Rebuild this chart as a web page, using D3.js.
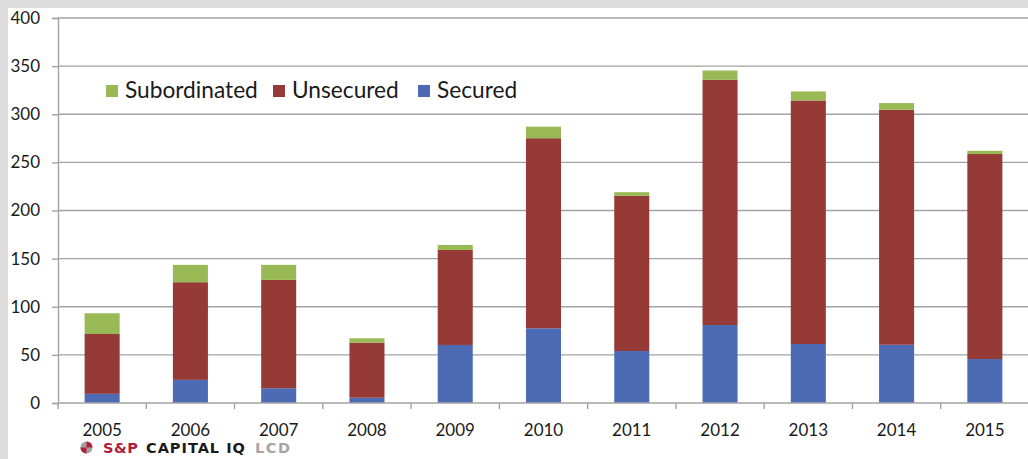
<!DOCTYPE html>
<html>
<head>
<meta charset="utf-8">
<script src="https://cdn.jsdelivr.net/npm/d3@7"></script>
<style>
  html, body { margin: 0; padding: 0; background: #dcdcdc; }
  svg { display: block; }
</style>
</head>
<body>
<svg id="chart" width="1028" height="459"></svg>
<script>
const years = ["2005","2006","2007","2008","2009","2010","2011","2012","2013","2014","2015"];
const secured = [9.5, 24, 15.3, 5.5, 60.3, 77.6, 54, 81, 61.3, 60.5, 45.7];
const unsecured = [62.2, 101.5, 112.6, 57.2, 98.7, 197.5, 161.2, 254.8, 253, 244.1, 213];
const subordinated = [21.5, 18, 15.6, 4.5, 5.2, 12, 3.8, 9.6, 9.4, 7, 3.3];
const seriesNames = ["Secured", "Unsecured", "Subordinated"];
const seriesColors = ["#4d6bb5", "#953a37", "#98b953"];
const yTicks = [0, 50, 100, 150, 200, 250, 300, 350, 400];
const legendOrder = ["Subordinated", "Unsecured", "Secured"];

const svg = d3.select("#chart");
const W = 1028, H = 459;
const plot = { left: 58, right: 1029, top: 18, bottom: 403 };

// white panel
svg.append("rect").attr("x", 8).attr("y", 8).attr("width", W - 8).attr("height", H - 8).attr("fill", "#ffffff");

const x = d3.scaleBand().domain(years).range([plot.left, plot.right]).paddingInner(0).paddingOuter(0);
const y = d3.scaleLinear().domain([0, 400]).range([plot.bottom, plot.top]);
const barW = x.bandwidth() * 0.397;

// gridlines
svg.append("g").selectAll("line").data(yTicks.filter(d => d > 0)).join("line")
  .attr("x1", plot.left).attr("x2", W)
  .attr("y1", d => y(d)).attr("y2", d => y(d))
  .attr("stroke", "#a3a3a3").attr("stroke-width", 1.4);

// y axis
const yAxis = d3.axisLeft(y).tickValues(yTicks).tickSize(6).tickPadding(12);
const gy = svg.append("g").attr("transform", `translate(${plot.left},0)`).call(yAxis);
gy.select(".domain").attr("stroke", "#a3a3a3").attr("stroke-width", 1.4);
gy.selectAll(".tick line").attr("stroke", "#a3a3a3").attr("stroke-width", 1.4);
gy.selectAll(".tick text").attr("font-family", "Lato, 'Open Sans', sans-serif").attr("font-size", 17).attr("fill", "#1a1a1a");

// stacked data
const rows = years.map((yr, i) => ({ year: yr, Secured: secured[i], Unsecured: unsecured[i], Subordinated: subordinated[i] }));
const stack = d3.stack().keys(seriesNames)(rows);
const color = d3.scaleOrdinal().domain(seriesNames).range(seriesColors);

svg.append("g").selectAll("g").data(stack).join("g")
  .attr("fill", d => color(d.key))
  .selectAll("rect").data(d => d).join("rect")
  .attr("x", d => x(d.data.year) + (x.bandwidth() - barW) / 2)
  .attr("width", barW)
  .attr("y", d => y(d[1]))
  .attr("height", d => y(d[0]) - y(d[1]));

// x axis line and ticks at category boundaries
svg.append("line").attr("x1", plot.left).attr("x2", W).attr("y1", plot.bottom).attr("y2", plot.bottom)
  .attr("stroke", "#a3a3a3").attr("stroke-width", 1.4);
const boundaries = years.map(d => x(d)).concat([x.range()[1]]);
svg.append("g").selectAll("line").data(boundaries).join("line")
  .attr("x1", d => d).attr("x2", d => d).attr("y1", plot.bottom).attr("y2", plot.bottom + 6)
  .attr("stroke", "#a3a3a3").attr("stroke-width", 1.4);
svg.append("g").selectAll("text").data(years).join("text")
  .attr("x", d => x(d) + x.bandwidth() / 2).attr("y", 436)
  .attr("text-anchor", "middle")
  .attr("font-family", "Lato, 'Open Sans', sans-serif").attr("font-size", 17).attr("fill", "#1a1a1a")
  .text(d => d);

// legend
const legendX = [106, 273, 418];
const lg = svg.append("g").selectAll("g").data(legendOrder).join("g")
  .attr("transform", (d, i) => `translate(${legendX[i]},85)`);
lg.append("rect").attr("width", 12).attr("height", 12).attr("fill", d => color(d));
lg.append("text").attr("x", 19).attr("y", 13)
  .attr("font-family", "Lato, 'Open Sans', sans-serif").attr("font-size", 22.7).attr("fill", "#1a1a1a")
  .text(d => d);

// source logo
const logo = svg.append("g");
logo.append("circle").attr("cx", 86.5).attr("cy", 447.5).attr("r", 6).attr("fill", "#a0a0a0");
logo.append("path").attr("d", "M86.5,441.5 A6,6 0 0 1 92.5,447.5 L86.5,447.5 Z").attr("fill", "#b51f3f");
logo.append("path").attr("d", "M80.5,447.5 A6,6 0 0 0 86.5,453.5 L86.5,447.5 Z").attr("fill", "#b51f3f");
const logoFont = "'DejaVu Sans', sans-serif";
logo.append("text").attr("x", 103).attr("y", 453).attr("font-family", logoFont).attr("font-weight", "bold")
  .attr("font-size", 14.5).attr("letter-spacing", 0.6).attr("fill", "#b01c3c").text("S&P");
logo.append("text").attr("x", 146).attr("y", 453).attr("font-family", logoFont).attr("font-weight", "bold")
  .attr("font-size", 14.5).attr("letter-spacing", 1).attr("fill", "#1a1a1a").text("CAPITAL IQ");
logo.append("text").attr("x", 255).attr("y", 453).attr("font-family", logoFont).attr("font-weight", "bold")
  .attr("font-size", 14.5).attr("letter-spacing", 1.5).attr("fill", "#a5a5a5").text("LCD");
</script>
</body>
</html>
